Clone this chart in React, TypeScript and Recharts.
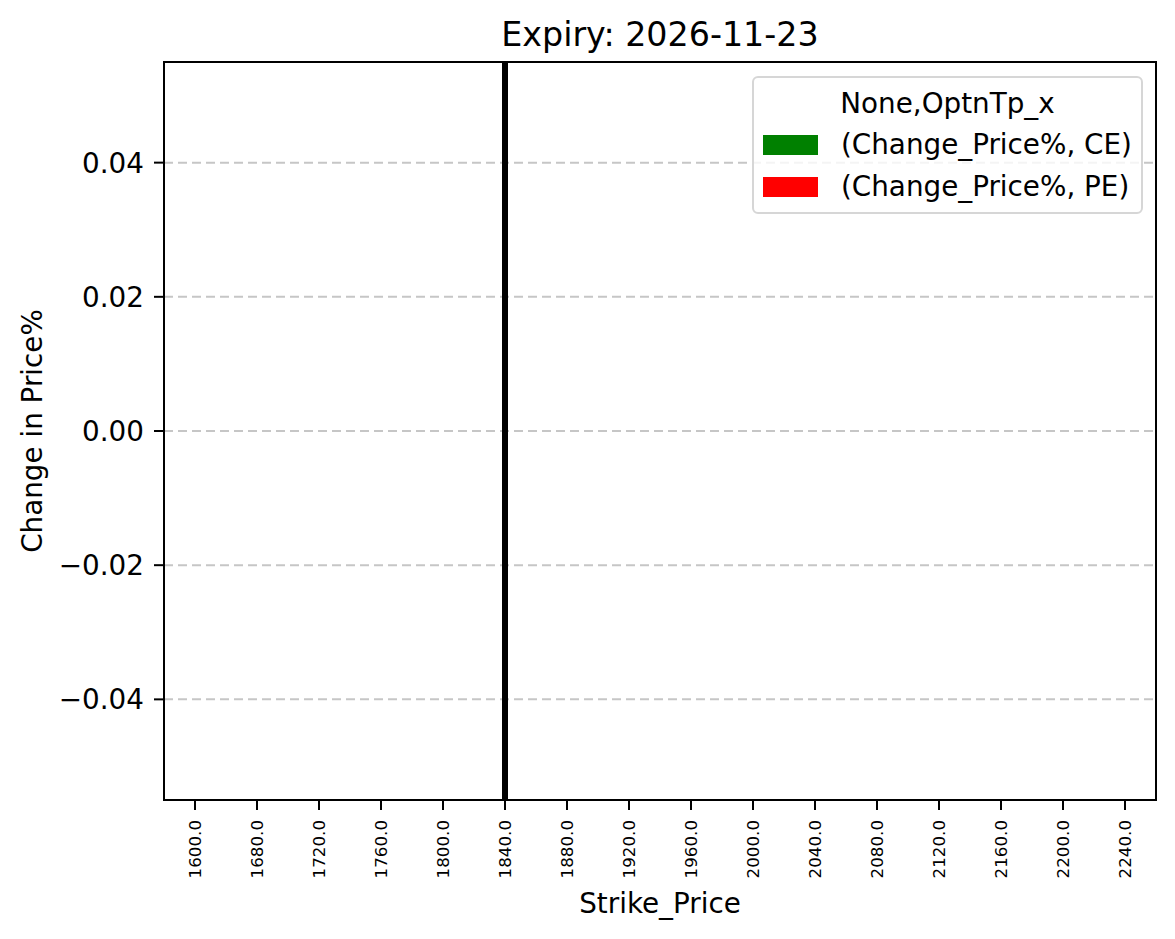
import React from 'react';
import { BarChart, Bar, XAxis, YAxis, CartesianGrid, ReferenceLine, Label } from 'recharts';

// strike prices on the x axis (category labels)
const STRIKES = ['1600.0', '1680.0', '1720.0', '1760.0', '1800.0', '1840.0', '1880.0', '1920.0',
  '1960.0', '2000.0', '2040.0', '2080.0', '2120.0', '2160.0', '2200.0', '2240.0'];
// change in price %, all flat for this expiry
const CE_CHANGE = [0, 0, 0, 0, 0, 0, 0, 0, 0, 0, 0, 0, 0, 0, 0, 0];
const PE_CHANGE = [0, 0, 0, 0, 0, 0, 0, 0, 0, 0, 0, 0, 0, 0, 0, 0];
const Y_TICKS = [-0.04, -0.02, 0, 0.02, 0.04];
const SPOT_STRIKE = '1840.0';

const FONT = '"DejaVu Sans", sans-serif';
const FS = 27.8; // 10pt @ 200dpi

const data = STRIKES.map((s, i) => ({ strike: s, ce: CE_CHANGE[i], pe: PE_CHANGE[i] }));

const fmtY = (v: number) => v.toFixed(2).replace('-', '\u2212');

const XTick = (props: any) => {
  const { x, y, payload } = props;
  return (
    <text x={x} y={y} transform={`rotate(-90, ${x}, ${y})`} textAnchor="end" dominantBaseline="central"
      fontFamily={FONT} fontSize={16.7} fill="#000">
      {payload.value}
    </text>
  );
};

const LEGEND_ITEMS = [
  { color: 'green', label: '(Change_Price%, CE)', top: 57 },
  { color: '#ff0000', label: '(Change_Price%, PE)', top: 99 },
];

const LegendBox = () => (
  <div style={{
    position: 'absolute', left: 752, top: 76, width: 391, height: 138, boxSizing: 'border-box',
    border: '2px solid #d6d6d6', borderRadius: 6, background: 'rgba(255,255,255,0.8)',
    fontFamily: FONT, fontSize: FS, color: '#000',
  }}>
    <div style={{ position: 'absolute', left: 0, width: '100%', top: 8, lineHeight: '36px', textAlign: 'center' }}>
      None,OptnTp_x
    </div>
    {LEGEND_ITEMS.map((it) => (
      <div key={it.label} style={{ position: 'absolute', left: 0, top: it.top, height: 20, width: '100%' }}>
        <div style={{ position: 'absolute', left: 9, top: 0, width: 55, height: 20, background: it.color }} />
        <div style={{ position: 'absolute', left: 87, top: -8, lineHeight: '36px', whiteSpace: 'nowrap' }}>{it.label}</div>
      </div>
    ))}
  </div>
);

export default function App() {
  return (
    <div style={{ position: 'absolute', left: 0, top: 0, width: 1175, height: 939, background: '#fff' }}>
      <div style={{
        position: 'absolute', left: 164, top: 15, width: 992, textAlign: 'center',
        fontFamily: FONT, fontSize: 33.3, lineHeight: '40px', color: '#000',
      }}>
        Expiry: 2026-11-23
      </div>
      <BarChart width={1175} height={939} data={data}
        margin={{ top: 62, right: 19, left: 0, bottom: 0 }} barCategoryGap="10%" barGap={0}>
        <CartesianGrid vertical={false} stroke="#c6c6c6" strokeWidth={2} strokeDasharray="9 5" />
        <XAxis dataKey="strike" height={139} interval={0} tickSize={10} tickMargin={10}
          axisLine={{ stroke: '#000', strokeWidth: 2 }} tickLine={{ stroke: '#000', strokeWidth: 2 }}
          tick={<XTick />}>
          <Label value="Strike_Price" position="insideBottom" offset={26}
            style={{ fontFamily: FONT, fontSize: FS, fill: '#000' }} />
        </XAxis>
        <YAxis width={164} domain={[-0.055, 0.055]} ticks={Y_TICKS} tickFormatter={fmtY}
          tickSize={10} tickMargin={10} allowDataOverflow
          axisLine={{ stroke: '#000', strokeWidth: 2 }} tickLine={{ stroke: '#000', strokeWidth: 2 }}
          tick={{ fontFamily: FONT, fontSize: FS, fill: '#000' }}>
          <Label value="Change in Price%" angle={-90} position="insideLeft" offset={32}
            style={{ fontFamily: FONT, fontSize: FS, fill: '#000', textAnchor: 'middle' }} />
        </YAxis>
        <Bar dataKey="ce" name="(Change_Price%, CE)" fill="green" isAnimationActive={false} />
        <Bar dataKey="pe" name="(Change_Price%, PE)" fill="#ff0000" isAnimationActive={false} />
        <ReferenceLine x={SPOT_STRIKE} stroke="#000" strokeWidth={6} />
      </BarChart>
      {/* matplotlib-style frame around the plot area */}
      <div style={{
        position: 'absolute', left: 163, top: 61, width: 994, height: 740, boxSizing: 'border-box',
        border: '2px solid #000', pointerEvents: 'none',
      }} />
      <LegendBox />
    </div>
  );
}
